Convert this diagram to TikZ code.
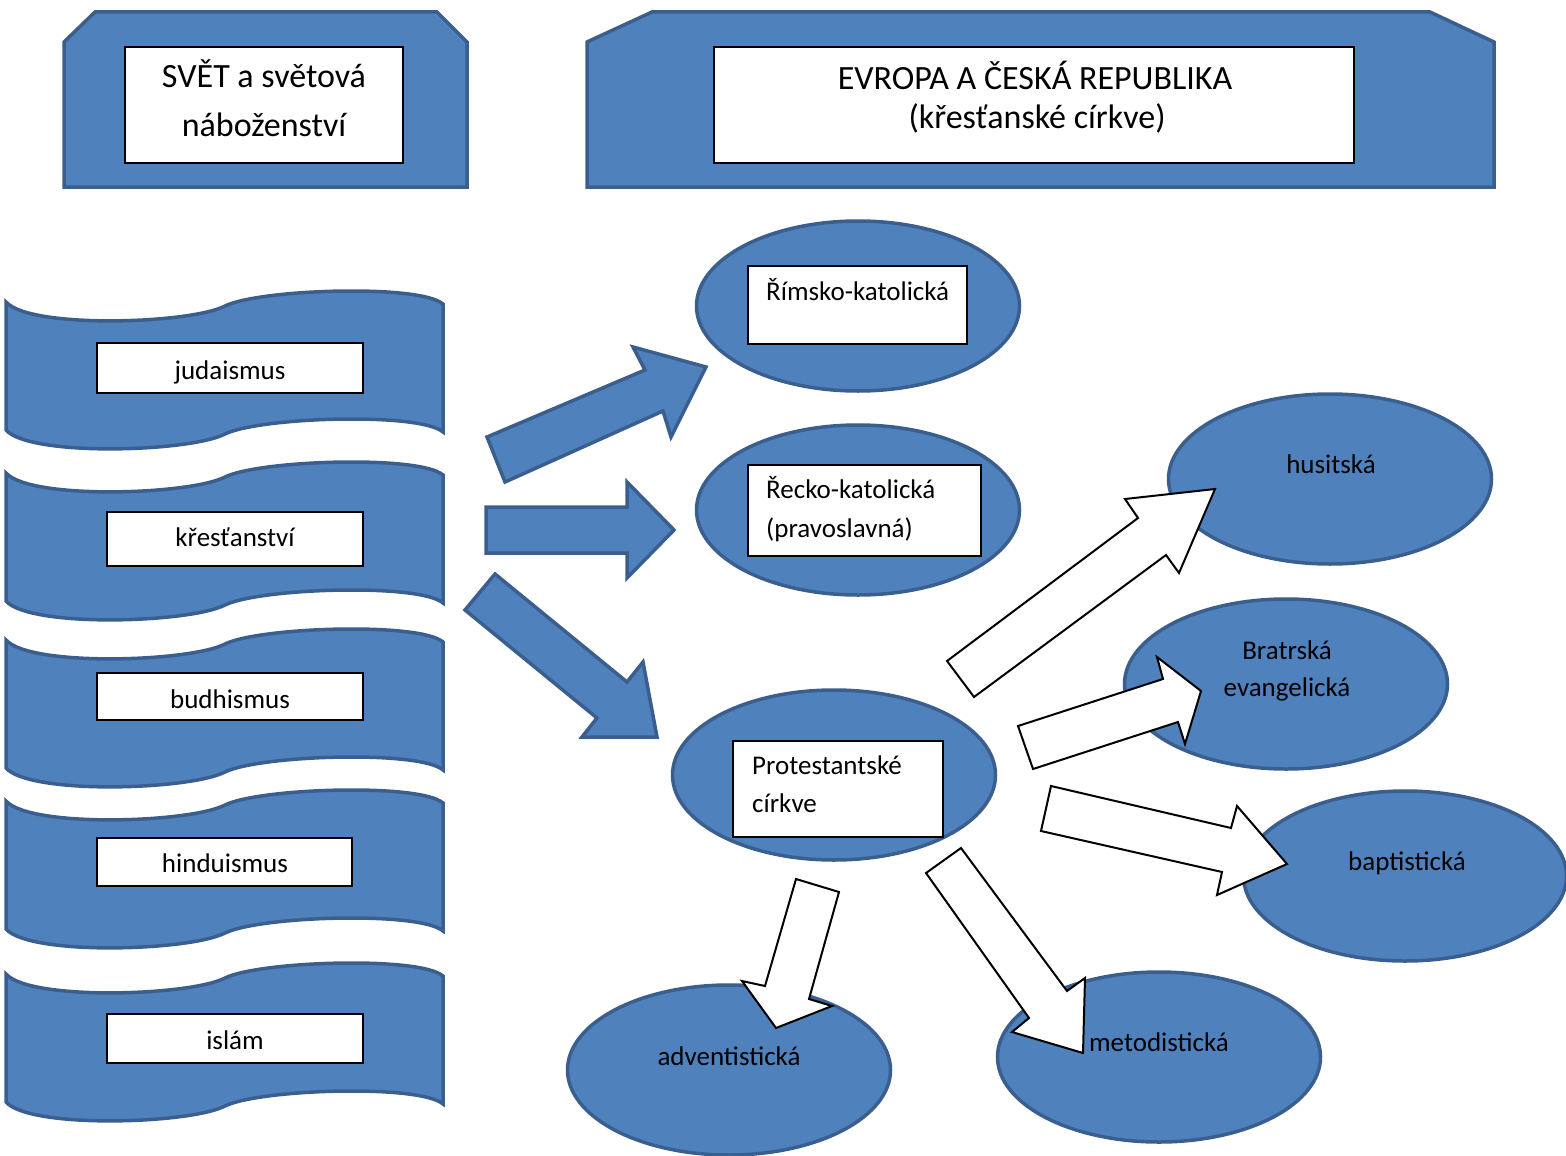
\documentclass[tikz,border=0pt]{standalone}
\usepackage{fontspec}
\setmainfont{Carlito}
\usetikzlibrary{shapes.geometric}
\definecolor{bfill}{HTML}{4F81BD}
\definecolor{bline}{HTML}{3A5F8E}
\tikzset{
  banner/.style={fill=bfill, draw=bline, line width=3.5pt, line join=miter},
  ell/.style={ellipse, fill=bfill, draw=bline, line width=3.5pt, minimum width=323pt, minimum height=170pt, inner sep=0pt},
  wbox/.style={rectangle, draw=black, fill=white, line width=1.3pt, inner sep=0pt},
  lbl/.style={font=\fontsize{27}{38}\selectfont, inner sep=0pt},
  hd/.style={font=\fontsize{34}{40}\selectfont, inner sep=0pt},
  barrow/.style={fill=bfill, draw=bline, line width=3.5pt, line join=miter},
  warrow/.style={fill=white, draw=black, line width=2pt, line join=miter},
  wavebanner/.pic={\draw[banner] (6,0) .. controls (30,27) and (190,22) .. (225,4) .. controls (260,-13) and (420,-18) .. (443,2) -- (443,130) .. controls (420,110) and (260,115) .. (225,132) .. controls (190,150) and (30,155) .. (6,128) -- cycle;}
}
\begin{document}
\begin{tikzpicture}[x=1pt,y=-1pt]
\clip (0,0) rectangle (1566,1156);
% header banners
\draw[banner] (64,42) -- (95,12) -- (437,12) -- (467,42) -- (467,187) -- (64,187) -- cycle;
\draw[banner] (587,42) -- (652,12) -- (1430,12) -- (1494,42) -- (1494,187) -- (587,187) -- cycle;
\node[wbox, minimum width=278pt, minimum height=116pt] (hlbox) at (264,105) {};
\node[wbox, minimum width=640pt, minimum height=116pt] (hrbox) at (1034,105) {};
\node[hd, anchor=base] (hla) at (264,88) {SVĚT a světová};
\node[hd, anchor=base] (hlb) at (264,136) {náboženství};
\node[hd, anchor=base] (hra) at (1035,89) {EVROPA A ČESKÁ REPUBLIKA};
\node[hd, anchor=base] (hrb) at (1037,128) {(křesťanské církve)};
% wave banners
\pic at (0,302) {wavebanner};
\pic at (0,473) {wavebanner};
\pic at (0,640) {wavebanner};
\pic at (0,801) {wavebanner};
\pic at (0,974) {wavebanner};
\node[wbox, minimum width=266pt, minimum height=50pt] (b1) at (230,368) {};
\node[wbox, minimum width=256pt, minimum height=54pt] (b2) at (235,539) {};
\node[wbox, minimum width=266pt, minimum height=47pt] (b3) at (230,696.5) {};
\node[wbox, minimum width=255pt, minimum height=48pt] (b4) at (224.5,862) {};
\node[wbox, minimum width=256pt, minimum height=49pt] (b5) at (235,1038.5) {};
\node[lbl, anchor=base] (l1) at (230,379) {judaismus};
\node[lbl, anchor=base] (l2) at (235,546) {křesťanství};
\node[lbl, anchor=base] (l3) at (230,708) {budhismus};
\node[lbl, anchor=base] (l4) at (225,872) {hinduismus};
\node[lbl, anchor=base] (l5) at (235,1049) {islám};
% ellipses
\node[ell] (rim) at (858,306) {};
\node[ell] (rec) at (858,510) {};
\node[ell] (pro) at (834,775) {};
\node[ell] (hus) at (1330,479) {};
\node[ell] (bra) at (1286,684) {};
\node[ell] (bap) at (1405,876) {};
\node[ell] (adv) at (729,1070) {};
\node[ell] (met) at (1159,1057) {};
\node[wbox, minimum width=219pt, minimum height=78pt] (rimbox) at (857.5,305) {};
\node[wbox, minimum width=233pt, minimum height=91pt] (recbox) at (864.5,510.5) {};
\node[wbox, minimum width=210pt, minimum height=96pt] (probox) at (838,789) {};
% blue arrows
\draw[barrow] (487,437) -- (645,370) -- (633,347) -- (706,367) -- (671,437) -- (663,411) -- (505,482) -- cycle;
\draw[barrow] (486,507) -- (627,507) -- (627,482) -- (674,530) -- (627,578) -- (627,553) -- (486,553) -- cycle;
\draw[barrow] (495,574) -- (627,682) -- (643,662) -- (657,737) -- (582,737) -- (597,718) -- (465,610) -- cycle;
% white arrows
\draw[warrow] (947,661) -- (1138,518) -- (1125,499) -- (1215,489) -- (1179,573) -- (1166,555) -- (974,697) -- cycle;
\draw[warrow] (1018,726) -- (1163,679) -- (1157,657) -- (1201,691) -- (1185,744) -- (1178,722) -- (1033,769) -- cycle;
\draw[warrow] (1051,786) -- (1231,828) -- (1237,806) -- (1287,864) -- (1217,895) -- (1222,872) -- (1041,831) -- cycle;
\draw[warrow] (796,879) -- (839,892) -- (809,999) -- (832,1006) -- (776,1028) -- (742,981) -- (765,986) -- cycle;
\draw[warrow] (926,873) -- (961,848) -- (1067,991) -- (1085,978) -- (1083,1053) -- (1012,1032) -- (1029,1018) -- cycle;
% texts
\node[lbl, anchor=base west] (trim) at (766,300) {Římsko-katolická};
\node[lbl, anchor=base west] (treca) at (766,498) {Řecko-katolická};
\node[lbl, anchor=base west] (trecb) at (766,537) {(pravoslavná)};
\node[lbl, anchor=base west] (tproa) at (752,774) {Protestantské};
\node[lbl, anchor=base west] (tprob) at (752,812) {církve};
\node[lbl, anchor=base] (thus) at (1331,473) {husitská};
\node[lbl, anchor=base] (tbraa) at (1287,659) {Bratrská};
\node[lbl, anchor=base] (tbrab) at (1287,696) {evangelická};
\node[lbl, anchor=base] (tbap) at (1407,870) {baptistická};
\node[lbl, anchor=base] (tadv) at (729,1065) {adventistická};
\node[lbl, anchor=base] (tmet) at (1159,1051) {metodistická};
\end{tikzpicture}
\end{document}
